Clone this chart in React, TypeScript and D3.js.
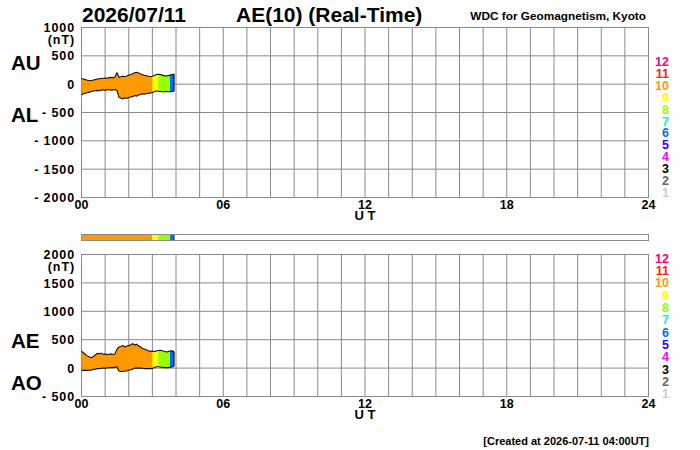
import React from "react";
import * as d3 from "d3";

// ---- data ----
const minutes = [0, 5, 10, 15, 20, 25, 30, 35, 40, 45, 50, 55, 60, 65, 70, 75, 80, 85, 90, 95, 100, 105, 110, 115, 120, 125, 130, 135, 140, 145, 150, 155, 160, 165, 170, 175, 180, 185, 190, 195, 200, 205, 210, 215, 220, 225, 230, 235];
const auValues = [100, 90, 80, 70, 65, 60, 75, 80, 90, 95, 100, 105, 110, 105, 115, 120, 115, 125, 200, 125, 130, 140, 135, 145, 160, 170, 185, 200, 210, 195, 180, 165, 155, 150, 140, 135, 140, 155, 170, 175, 170, 160, 150, 145, 150, 160, 170, 180];
const alValues = [-190, -170, -160, -150, -140, -130, -120, -115, -110, -115, -105, -100, -110, -100, -95, -105, -100, -95, -110, -230, -250, -260, -240, -250, -235, -225, -220, -200, -210, -190, -180, -170, -175, -165, -160, -155, -150, -130, -120, -125, -130, -135, -135, -130, -135, -135, -130, -125];
const aeValues = [300, 270, 240, 215, 195, 185, 200, 230, 260, 250, 265, 240, 250, 235, 245, 250, 240, 250, 330, 370, 380, 400, 370, 390, 395, 410, 430, 405, 420, 390, 370, 345, 335, 320, 305, 295, 300, 290, 300, 310, 315, 305, 295, 285, 290, 300, 305, 290];
const aoValues = [-35, -40, -40, -40, -38, -35, -22, -18, -10, -10, -3, 2, 0, 2, 10, 8, 8, 15, 20, -52, -60, -60, -52, -52, -38, -28, -18, 0, 0, 3, 0, -3, -10, -8, -10, -10, -5, 12, 25, 25, 20, 12, 8, 8, 8, 12, 20, 28];

const segFrom = [0, 180, 195, 225];
const segTo = [180, 195, 225, 235];
const segCount = [10, 9, 8, 6];

const stationLabels = [12, 11, 10, 9, 8, 7, 6, 5, 4, 3, 2, 1];
const stationColors: Record<number, string> = {
  12: "#ff0080", 11: "#ff2000", 10: "#ff9900", 9: "#ffff00", 8: "#99ff00", 7: "#00ffcc",
  6: "#0070ff", 5: "#3300ff", 4: "#ff00ff", 3: "#000000", 2: "#666666", 1: "#cccccc",
};

const hourTicks = [0, 6, 12, 18, 24];
const hourTickLabels = ["00", "06", "12", "18", "24"];
const topYTicks = [1000, 500, 0, -500, -1000, -1500, -2000];
const bottomYTicks = [2000, 1500, 1000, 500, 0, -500];

const FONT = "'Liberation Sans', Arial, Helvetica, sans-serif";
const GRID = "#8a8a8a";

const x = d3.scaleLinear().domain([0, 1440]).range([81.5, 648.5]);

function fmt(v: number) {
  return v < 0 ? "- " + Math.abs(v) : String(v);
}

type PanelProps = {
  id: string;
  y: d3.ScaleLinear<number, number>;
  ticks: number[];
  upper: number[];
  lower: number[];
  upperName: string;
  lowerName: string;
  upperNameY: number;
  lowerNameY: number;
  labelTop: number;
  labelStep: number;
};

function Panel(p: PanelProps) {
  const [y0, y1] = p.y.range();
  const top = Math.min(y0, y1);
  const bottom = Math.max(y0, y1);
  const hours = d3.range(1, 24);
  const pts = minutes.map((m, i) => ({ m, u: p.upper[i], l: p.lower[i] }));
  const area = d3
    .area<{ m: number; u: number; l: number }>()
    .x((d) => x(d.m))
    .y0((d) => p.y(d.l))
    .y1((d) => p.y(d.u));
  const lineU = d3.line<{ m: number; u: number; l: number }>().x((d) => x(d.m)).y((d) => p.y(d.u));
  const lineL = d3.line<{ m: number; u: number; l: number }>().x((d) => x(d.m)).y((d) => p.y(d.l));
  const last = pts[pts.length - 1];
  return (
    <g>
      <defs>
        {segFrom.map((f, i) => (
          <clipPath id={`${p.id}-clip-${i}`} key={i}>
            <rect x={x(f)} y={0} width={x(segTo[i]) - x(f) + (i === segFrom.length - 1 ? 1 : 0.3)} height={450} />
          </clipPath>
        ))}
      </defs>
      {/* grid */}
      {hours.map((h) => (
        <line key={h} x1={x(h * 60)} x2={x(h * 60)} y1={top} y2={bottom} stroke={GRID} strokeWidth={1} />
      ))}
      {p.ticks.map((t) => (
        <line key={t} x1={x(0)} x2={x(1440)} y1={p.y(t)} y2={p.y(t)} stroke={GRID} strokeWidth={1} />
      ))}
      <rect x={x(0)} y={top} width={x(1440) - x(0)} height={bottom - top} fill="none" stroke={GRID} strokeWidth={1} />
      {/* data */}
      {segFrom.map((f, i) => (
        <path key={i} d={area(pts) || ""} fill={stationColors[segCount[i]]} clipPath={`url(#${p.id}-clip-${i})`} />
      ))}
      <path d={lineU(pts) || ""} fill="none" stroke="#111" strokeWidth={1.1} />
      <path d={lineL(pts) || ""} fill="none" stroke="#111" strokeWidth={1.1} />
      <line x1={x(last.m)} x2={x(last.m)} y1={p.y(last.u)} y2={p.y(last.l)} stroke="#111" strokeWidth={1.2} />
      {/* y tick labels */}
      {p.ticks.map((t) => (
        <text key={t} x={75} y={p.y(t) + 4.6} textAnchor="end" fontFamily={FONT} fontWeight="bold" fontSize={12.5} letterSpacing={0.9}>
          {fmt(t)}
        </text>
      ))}
      <text x={75} y={top + 16} textAnchor="end" fontFamily={FONT} fontWeight="bold" fontSize={12.5} letterSpacing={0.9}>
        (nT)
      </text>
      {/* x tick labels */}
      {hourTicks.map((h, i) => (
        <text key={h} x={x(h * 60)} y={bottom + 11} textAnchor="middle" fontFamily={FONT} fontWeight="bold" fontSize={12.5}>
          {hourTickLabels[i]}
        </text>
      ))}
      <text x={x(720)} y={bottom + 22} textAnchor="middle" fontFamily={FONT} fontWeight="bold" fontSize={13}>
        U T
      </text>
      {/* index names */}
      <text x={11} y={p.upperNameY} fontFamily={FONT} fontWeight="bold" fontSize={20.5}>
        {p.upperName}
      </text>
      <text x={11} y={p.lowerNameY} fontFamily={FONT} fontWeight="bold" fontSize={20.5}>
        {p.lowerName}
      </text>
      {/* station count legend */}
      {stationLabels.map((s, i) => (
        <text key={s} x={669} y={p.labelTop + i * p.labelStep + 4.5} textAnchor="end" fontFamily={FONT} fontWeight="bold" fontSize={12.5} fill={stationColors[s]}>
          {s}
        </text>
      ))}
    </g>
  );
}

export default function App() {
  const yTop = d3.scaleLinear().domain([-2000, 1000]).range([197.5, 27.5]);
  const yBottom = d3.scaleLinear().domain([-500, 2000]).range([396.5, 254.5]);
  return (
    <svg width={700} height={450} style={{ position: "absolute", left: 0, top: 0, background: "#fff" }}>
      <rect x={0} y={0} width={700} height={450} fill="#fff" />
      <text x={82} y={22} fontFamily={FONT} fontWeight="bold" fontSize={21}>
        2026/07/11
      </text>
      <text x={236} y={22} fontFamily={FONT} fontWeight="bold" fontSize={21}>
        AE(10) (Real-Time)
      </text>
      <text x={646} y={20} textAnchor="end" fontFamily={FONT} fontWeight="bold" fontSize={11.8}>
        WDC for Geomagnetism, Kyoto
      </text>
      <Panel id="top" y={yTop} ticks={topYTicks} upper={auValues} lower={alValues} upperName="AU" lowerName="AL" upperNameY={70} lowerNameY={122} labelTop={61.5} labelStep={11.9} />
      {/* station-count colour bar */}
      <rect x={x(0)} y={234.5} width={x(1440) - x(0)} height={6} fill="#fff" stroke={GRID} strokeWidth={1} />
      {segFrom.map((f, i) => (
        <rect key={i} x={x(f)} y={235} width={x(segTo[i]) - x(f)} height={5} fill={stationColors[segCount[i]]} />
      ))}
      <line x1={x(235)} x2={x(235)} y1={235} y2={240} stroke="#333" strokeWidth={1} />
      <Panel id="bot" y={yBottom} ticks={bottomYTicks} upper={aeValues} lower={aoValues} upperName="AE" lowerName="AO" upperNameY={348} lowerNameY={390} labelTop={258} labelStep={12.36} />
      <text x={649} y={445} textAnchor="end" fontFamily={FONT} fontWeight="bold" fontSize={11}>
        [Created at 2026-07-11 04:00UT]
      </text>
    </svg>
  );
}
